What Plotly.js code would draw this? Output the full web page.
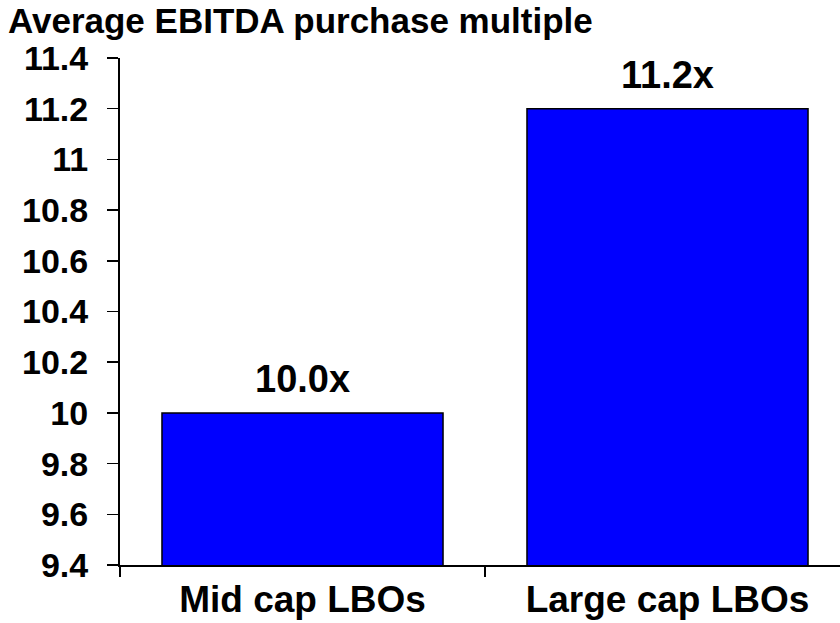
<!DOCTYPE html>
<html>
<head>
<meta charset="utf-8">
<script src="https://cdn.plot.ly/plotly-3.0.1.min.js"></script>
<style>
  html, body { margin: 0; padding: 0; background: #fff; }
  #chart { width: 840px; height: 623px; }
</style>
</head>
<body>
<div id="chart"></div>
<script>
const categories = ["Mid cap LBOs", "Large cap LBOs"];
const values = [10.0, 11.2];
const valueLabels = ["10.0x", "11.2x"];
const yTickVals = [9.4, 9.6, 9.8, 10, 10.2, 10.4, 10.6, 10.8, 11, 11.2, 11.4];
const yTickText = ["9.4", "9.6", "9.8", "10", "10.2", "10.4", "10.6", "10.8", "11", "11.2", "11.4"];
const chartTitle = "Average EBITDA purchase multiple";

const FONT = "Liberation Sans, Arial, Helvetica, sans-serif";

const trace = {
  type: "bar",
  x: categories,
  y: values,
  width: 0.77,
  marker: { color: "#0000FF", line: { color: "#000000", width: 1.5 } },
  hoverinfo: "skip"
};

const annotations = categories.map((c, i) => ({
  x: c, y: values[i], xref: "x", yref: "y",
  text: "<b>" + valueLabels[i] + "</b>",
  showarrow: false, yanchor: "bottom", yshift: 11,
  font: { family: FONT, size: 38, color: "#000" }
}));

const layout = {
  width: 840, height: 623,
  margin: { l: 120, r: 0, t: 58, b: 58, pad: 0 },
  paper_bgcolor: "#fff", plot_bgcolor: "#fff",
  showlegend: false,
  title: {
    text: "<b>" + chartTitle + "</b>",
    xref: "container", yref: "container",
    x: 8 / 840, xanchor: "left",
    y: 1 - 21 / 623, yanchor: "middle",
    font: { family: FONT, size: 35, color: "#000" }
  },
  xaxis: {
    type: "category",
    range: [-0.5, 1.4726],
    showline: true, linecolor: "#000", linewidth: 2,
    ticks: "outside", tickson: "boundaries", ticklen: 10, tickwidth: 1.5, tickcolor: "#000",
    showgrid: false, zeroline: false,
    tickfont: { family: FONT, size: 37, color: "#000" },
    ticklabelstandoff: 1,
    tickprefix: "<b>", ticksuffix: "</b>"
  },
  yaxis: {
    range: [9.4, 11.4],
    showline: true, linecolor: "#000", linewidth: 2,
    ticks: "outside", ticklen: 11, tickwidth: 1.5, tickcolor: "#000",
    tickvals: yTickVals, ticktext: yTickText.map(t => "<b>" + t + "</b>"),
    showgrid: false, zeroline: false,
    tickfont: { family: FONT, size: 34, color: "#000" },
    ticklabelstandoff: 12
  },
  annotations: annotations
};

Plotly.newPlot("chart", [trace], layout, { displayModeBar: false, staticPlot: true });
</script>
</body>
</html>
